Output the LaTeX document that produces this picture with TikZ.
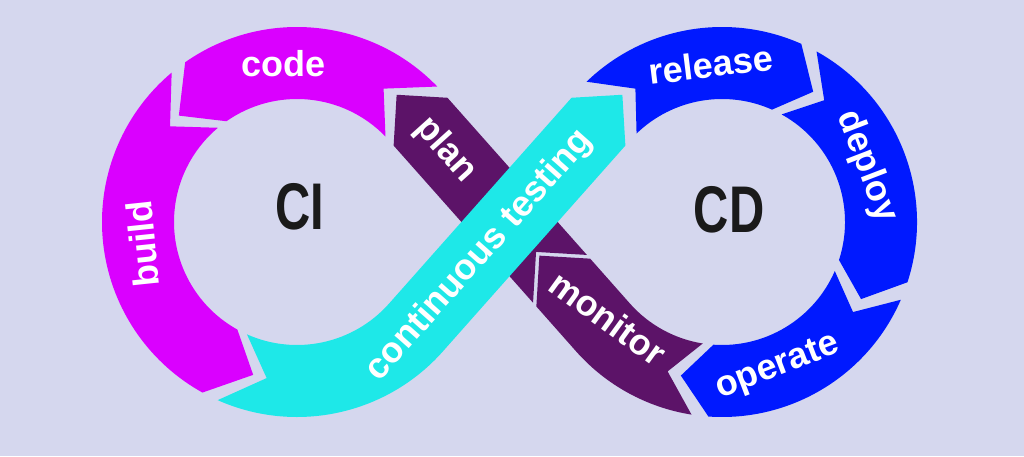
\documentclass[tikz,border=0pt]{standalone}
\usepackage{fontspec}
\setmainfont{Liberation Sans}
\newfontfamily\condfont[FakeStretch=0.74]{Liberation Sans}
\usetikzlibrary{calc}

\definecolor{bgLavender}{HTML}{D5D7EE}
\definecolor{ciMagenta}{HTML}{DA00FF}
\definecolor{cdBlue}{HTML}{0019FF}
\definecolor{opsPurple}{HTML}{5C1368}
\definecolor{testCyan}{HTML}{1EE8E8}
\definecolor{inkBlack}{HTML}{1A1A1A}

% ring piece: colour, centre, tail angle, head angle, tip offset
\newcommand{\ringarrow}[5]{%
  \fill[#1] ($(#2)+(#3:195)$) arc[start angle=#3, end angle=#4, radius=195]
    -- ($(#2)+(#4+#5:159)$) -- ($(#2)+(#4:123)$)
    arc[start angle=#4, end angle=#3, radius=123]
    -- ($(#2)+(#3+#5:159)$) -- cycle;}

\begin{document}
\begin{tikzpicture}[x=1pt, y=1pt,
  stage/.style={text=white, inner sep=0pt, font=\bfseries\fontsize{36}{36}\selectfont},
  loopname/.style={text=inkBlack, inner sep=0pt, font=\condfont\bfseries\fontsize{66}{66}\selectfont}]

  % Background
  \fill[bgLavender] (0,0) rectangle (1024,456);
  \useasboundingbox (0,0) rectangle (1024,456);

  % Loop centres
  \coordinate (L) at (297,234);
  \coordinate (R) at (722,234);
  \coordinate (M) at ($(L)!0.5!(R)$);

  % CI loop
  \ringarrow{ciMagenta}{L}{44}{125}{13}
  \ringarrow{ciMagenta}{L}{130}{241}{13}

  % CD loop
  \ringarrow{cdBlue}{R}{134}{66}{-11}
  \ringarrow{cdBlue}{R}{61}{-18}{-11}
  \ringarrow{cdBlue}{R}{-23.5}{-94}{-11}

  % monitor and plan
  \fill[opsPurple] ($(R)+(-99:195)$) arc[start angle=-99, end angle=-138.4, radius=195]
    -- ($(M)+(-48.4:81)+(-138.4:36)$) -- ($(M)+(-48.4:45)$)
    -- ($(M)+(-48.4:81)+(41.6:36)$) -- ($(R)+(-138.4:123)$)
    arc[start angle=-138.4, end angle=-99, radius=123]
    -- ($(R)+(-110:159)$) -- cycle;
  \fill[opsPurple] ($(M)+(-48.4:76)+(41.6:36)$) -- ($(L)+(41.6:195)+(-48.4:7)$)
    -- ($(L)+(41.6:159)+(131.6:29)$) -- ($(L)+(41.6:123)+(-48.4:7)$)
    -- ($(M)+(-48.4:76)+(-138.4:36)$) -- ($(M)+(-48.4:40)$) -- cycle;

  % continuous testing, on top
  \fill[testCyan] ($(L)+(246:195)$) arc[start angle=246, end angle=318.4, radius=195]
    -- ($(R)+(138.4:123)+(228.4:7)$) -- ($(R)+(138.4:159)+(48.4:29)$)
    -- ($(R)+(138.4:195)+(228.4:7)$) -- ($(L)+(318.4:123)$)
    arc[start angle=318.4, end angle=246, radius=123]
    -- ($(L)+(259:159)$) -- cycle;

  % Labels
  \node[stage] (code) at ($(L)+(95:159)$) {code};
  \node[stage, rotate=96] (build) at ($(L)+(188:156)$) {build};
  \node[stage, rotate=-48] (plan) at ($(M)+(131.6:96)$) {plan};
  \node[stage, rotate=48.4] (testing) at ($(M)+(228.4:45)$) {continuous testing};
  \node[stage, rotate=7] (release) at ($(R)+(94:158)$) {release};
  \node[stage, rotate=-69] (deploy) at ($(R)+(21:155)$) {deploy};
  \node[stage, rotate=21] (operate) at ($(R)+(-69:156)$) {operate};
  \node[stage, rotate=-36] (monitor) at (608,138) {monitor};
  \node[loopname] (ci) at (300,249) {CI};
  \node[loopname] (cd) at (729,246) {CD};

\end{tikzpicture}
\end{document}
